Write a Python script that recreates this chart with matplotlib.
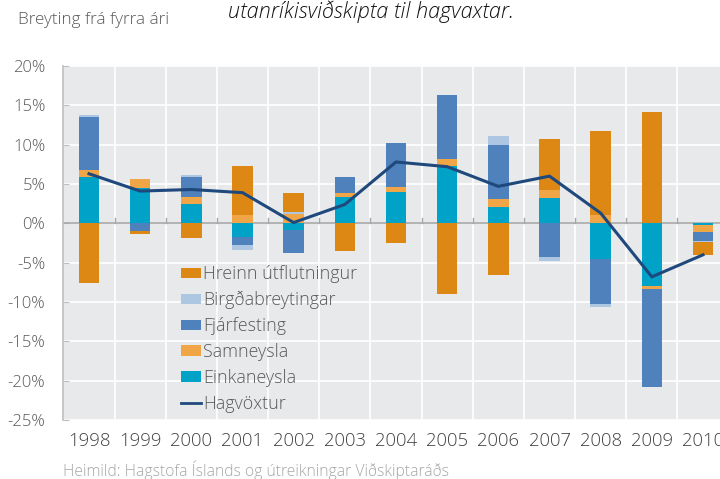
import numpy as np
import matplotlib
matplotlib.use("Agg")
import matplotlib.pyplot as plt
from matplotlib.patches import Patch
from matplotlib.lines import Line2D

plt.rcParams['font.family'] = ['Open Sans', 'DejaVu Sans']
plt.rcParams['font.weight'] = 'light'

years = ['1998', '1999', '2000', '2001', '2002', '2003', '2004', '2005',
         '2006', '2007', '2008', '2009', '2010']
einkaneysla = [5.84, 4.48, 2.45, -1.78, -0.85, 3.38, 3.94, 7.28, 2.03, 3.26, -4.57, -7.97, -0.25]
samneysla = [0.93, 1.10, 0.93, 1.05, 1.14, 0.51, 0.63, 0.89, 1.02, 1.01, 1.10, -0.42, -0.85]
fjarfesting = [6.78, -0.98, 2.54, -0.98, -2.88, 1.95, 5.67, 8.13, 6.90, -4.28, -5.72, -12.45, -1.20]
birgdabreytingar = [0.20, 0.0, 0.22, -0.63, 0.34, 0.0, 0.0, 0.0, 1.14, -0.55, -0.38, 0.0, -0.12]
hreinn_utfl = [-7.55, -0.42, -1.90, 6.23, 2.41, -3.56, -2.50, -9.02, -6.53, 6.48, 10.67, 14.18, -1.62]
hagvoxtur = [6.3, 4.1, 4.3, 3.9, 0.1, 2.4, 7.8, 7.2, 4.7, 6.0, 1.3, -6.8, -4.0]

series = [
    ('Einkaneysla', einkaneysla, '#00A2C8'),
    ('Samneysla', samneysla, '#F0A646'),
    ('Fjárfesting', fjarfesting, '#4F81BD'),
    ('Birgðabreytingar', birgdabreytingar, '#ADC6E2'),
    ('Hreinn útflutningur', hreinn_utfl, '#DD8815'),
]

fig = plt.figure(figsize=(7.2, 4.79), dpi=100)
W, H = 720, 479
x = np.arange(len(years))
left_px, right_px, top_px, bot_px = 63.4, 728.6, 66, 420
ax = fig.add_axes([left_px / W, 1 - bot_px / H, (right_px - left_px) / W, (bot_px - top_px) / H])
ax.set_facecolor('#E8E9EB')

pos = np.zeros(len(years))
neg = np.zeros(len(years))
handles = {}
for name, vals, col in series:
    v = np.array(vals)
    bottoms = np.where(v >= 0, pos, neg)
    ax.bar(x, v, width=0.4, bottom=bottoms, color=col, edgecolor='none', zorder=3)
    pos = pos + np.where(v >= 0, v, 0)
    neg = neg + np.where(v < 0, v, 0)
    handles[name] = Patch(facecolor=col, edgecolor='none')

ax.plot(x, hagvoxtur, color='#1F497D', lw=2.2, zorder=4, solid_joinstyle='miter')

ax.set_xlim(-0.5, len(years) - 0.5)
ax.set_ylim(-25, 20)
ax.set_yticks(np.arange(-25, 21, 5))
ax.set_yticklabels([f'{t}%' for t in range(-25, 21, 5)])
ax.set_xticks(x)
ax.set_xticklabels(years)
ax.set_xticks(x[:-1] + 0.5, minor=True)
ax.grid(axis='y', which='major', color='white', lw=1.2, zorder=1)
ax.grid(axis='x', which='minor', color='white', lw=1.2, zorder=1)
ax.grid(axis='x', which='major', visible=False)
ax.axhline(0, color='#A6A6A6', lw=1.2, zorder=2)
for b in x[:-1] + 0.5:
    ax.plot([b, b], [0, 0.65], color='#A6A6A6', lw=1, zorder=2)

for s in ['top', 'right', 'bottom']:
    ax.spines[s].set_visible(False)
ax.spines['left'].set_color('#BFBFBF')
ax.spines['left'].set_linewidth(1.2)
ax.tick_params(axis='y', direction='in', length=4.5, color='#BFBFBF', pad=13,
               labelsize=12, labelcolor='#595959')
ax.tick_params(axis='x', which='both', length=0, pad=9, labelsize=13.3, labelcolor='#404040')

order = ['Hreinn útflutningur', 'Birgðabreytingar', 'Fjárfesting', 'Samneysla', 'Einkaneysla']
hl = [handles[n] for n in order] + [Line2D([0], [0], color='#1F497D', lw=2)]
lab = order + ['Hagvöxtur']
leg = ax.legend(hl, lab, loc='upper left', bbox_to_anchor=(181 / W, 1 - 265 / H),
                bbox_transform=fig.transFigure, frameon=False, fontsize=12.9,
                handlelength=1.12, handleheight=0.5, handletextpad=0.12,
                labelspacing=0.44, borderaxespad=0, borderpad=0)
for t in leg.get_texts():
    t.set_color('#595959')

fig.text(18 / W, 1 - 20 / H, 'Breyting frá fyrra ári', fontsize=12.3, color='#595959',
         va='center', ha='left')
fig.text(228 / W, 1 - 12 / H, 'utanríkisviðskipta til hagvaxtar.', fontsize=15.6,
         style='italic', color='#111111', va='center', ha='left')
fig.text(63 / W, 1 - 470 / H, 'Heimild: Hagstofa Íslands og útreikningar Viðskiptaráðs',
         fontsize=11.3, color='#A6A6A6', va='center', ha='left')

fig.savefig('out.png', dpi=100)
